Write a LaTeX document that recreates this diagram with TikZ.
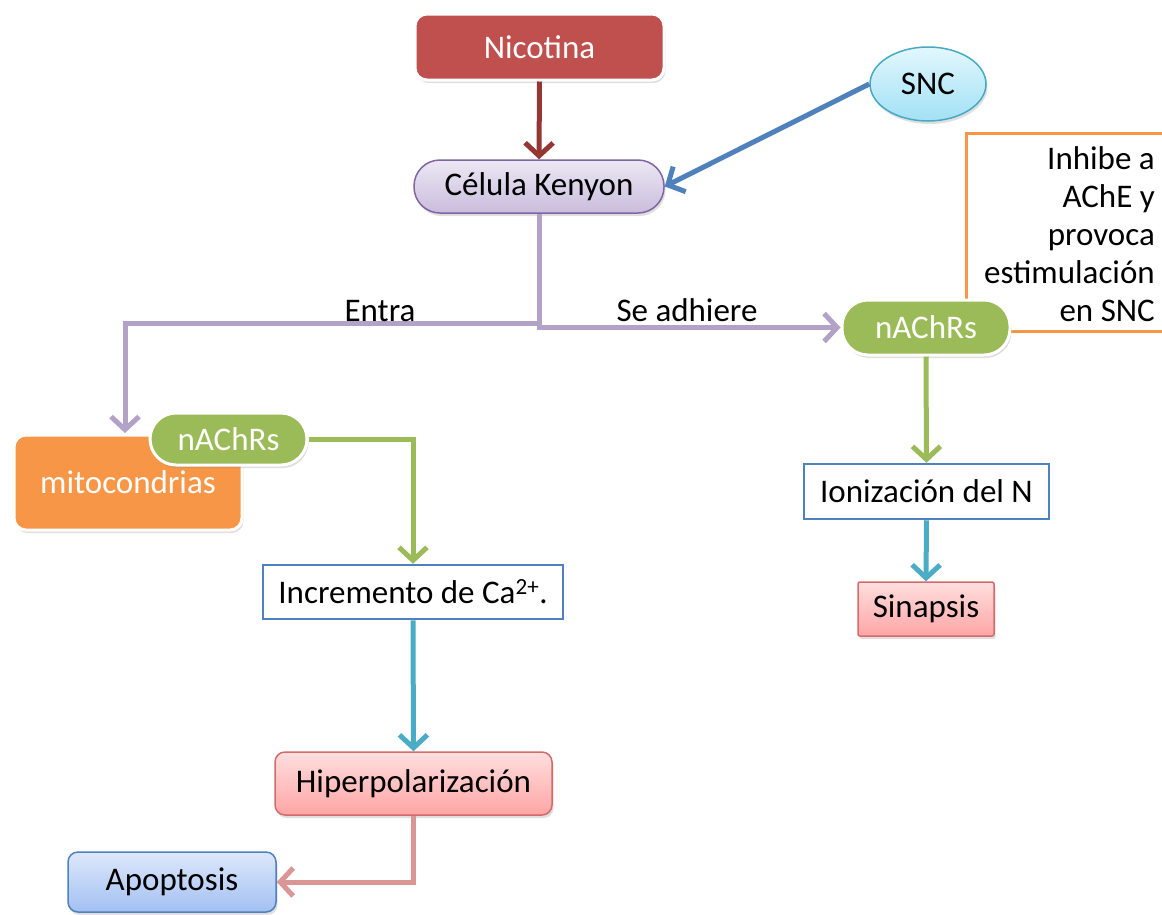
\documentclass[tikz,border=0pt]{standalone}
\usepackage{fontspec}
\setmainfont{Carlito}
\usetikzlibrary{arrows.meta,shapes.geometric,shadows,backgrounds}
\definecolor{nicored}{HTML}{C0504D}
\definecolor{darkred}{HTML}{943634}
\definecolor{purpline}{HTML}{B3A2C7}
\definecolor{purpborder}{HTML}{8064A2}
\definecolor{kentop}{HTML}{ECE7F3}
\definecolor{kenbot}{HTML}{CABDDD}
\definecolor{sncblue}{HTML}{4F81BD}
\definecolor{snctop}{HTML}{E2F7FD}
\definecolor{sncbot}{HTML}{A2E1F4}
\definecolor{sncborder}{HTML}{46AAC5}
\definecolor{orangeC}{HTML}{F79646}
\definecolor{greenC}{HTML}{9BBB59}
\definecolor{cyanC}{HTML}{4BACC6}
\definecolor{pinkC}{HTML}{D99694}
\definecolor{redtop}{HTML}{FFDEDE}
\definecolor{redbot}{HTML}{FFA5A5}
\definecolor{redborder}{HTML}{D46A6A}
\definecolor{bluetop}{HTML}{DDE8FB}
\definecolor{bluebot}{HTML}{A3C0F2}
\tikzset{
  every node/.style={font=\fontsize{33}{38}\selectfont, inner sep=0pt},
  shad/.style={drop shadow={opacity=0.25, shadow xshift=1.5pt, shadow yshift=-3pt}},
  nicobox/.style={shad, rectangle, rounded corners=12pt, fill=nicored, draw=white, line width=3pt, text=white},
  kenbox/.style={shad, rectangle, rounded corners=26pt, top color=kentop, bottom color=kenbot, draw=purpborder, line width=1.5pt},
  sncbox/.style={shad, ellipse, top color=snctop, bottom color=sncbot, draw=sncborder, line width=1.5pt},
  greenpill/.style={shad, rectangle, rounded corners=26pt, fill=greenC, draw=white, line width=3pt, text=white},
  mitobox/.style={shad, rectangle, rounded corners=12pt, fill=orangeC, draw=white, line width=3pt, text=white},
  plainbox/.style={rectangle, fill=white, draw=sncblue, line width=2.5pt},
  redbox/.style={shad, rectangle, rounded corners=#1, top color=redtop, bottom color=redbot, draw=redborder, line width=1.5pt},
  bluebox/.style={shad, rectangle, rounded corners=10pt, top color=bluetop, bottom color=bluebot, draw=sncblue, line width=1.5pt},
  conn/.style={line width=5pt, draw=#1, -{Straight Barb[length=13pt,width=28pt]}},
}
\begin{document}
\begin{tikzpicture}[x=1pt,y=-1pt]
\useasboundingbox (0,0) rectangle (1162,914);

\node[nicobox, minimum width=249pt, minimum height=66pt] (nico) at (539.5,47) {Nicotina};
\node[kenbox, minimum width=250pt, minimum height=53pt] (ken) at (539,186.5) {Célula Kenyon};
\node[sncbox, minimum width=116pt, minimum height=74pt] (snc) at (928,84) {SNC};
\node[greenpill, minimum width=168pt, minimum height=55pt] (nachrA) at (926,327.5) {nAChRs};
\node[align=right, anchor=east] (inhibe) at (1155,234) {Inhibe a\\AChE y\\provoca\\estimulación\\en SNC};
\node[mitobox, minimum width=228pt, minimum height=95pt] (mito) at (128,482.5) {mitocondrias};
\node[greenpill, minimum width=157pt, minimum height=52pt] (nachrB) at (228.5,439) {nAChRs};
\node[plainbox, minimum width=300pt, minimum height=54pt] (incr) at (413,592) {Incremento de Ca\textsuperscript{2+}.};
\node[redbox=10pt, minimum width=277pt, minimum height=63pt] (hiper) at (413.5,783.5) {Hiperpolarización};
\node[bluebox, minimum width=208pt, minimum height=60pt] (apop) at (172,882) {Apoptosis};
\node[plainbox, minimum width=245pt, minimum height=55pt] (ion) at (926.5,491.5) {Ionización del N};
\node[redbox=2pt, minimum width=136pt, minimum height=54pt] (sin) at (926,609) {Sinapsis};

\begin{scope}[on background layer]
  \fill[white] (0,0) rectangle (1162,914);
  \draw[orangeC, line width=3pt] (1162,133) -- (966,133) -- (966,331) -- (1162,331);
\end{scope}

\coordinate (split) at (539,323);
\coordinate (mitotop) at (125,433);
\draw[conn=darkred] (nico.south) -- (ken.north);
\draw[conn=sncblue] (snc.west) -- (ken.east);
\draw[conn=purpline] (ken.south) |- (nachrA.west);
\draw[line width=5pt, purpline] (ken.south) -- (split);
\draw[conn=purpline] (split) -| (mitotop);
\node[anchor=south] (entra) at (380,322) {Entra};
\node[anchor=south] (seadh) at (687,322) {Se adhiere};
\draw[conn=greenC] (nachrB.east) -| (incr.north);
\draw[conn=cyanC] (incr.south) -- (hiper.north);
\draw[conn=pinkC] (hiper.south) |- (apop.east);
\draw[conn=greenC] (nachrA.south) -- (ion.north);
\draw[conn=cyanC] (ion.south) -- (sin.north);
\end{tikzpicture}
\end{document}
